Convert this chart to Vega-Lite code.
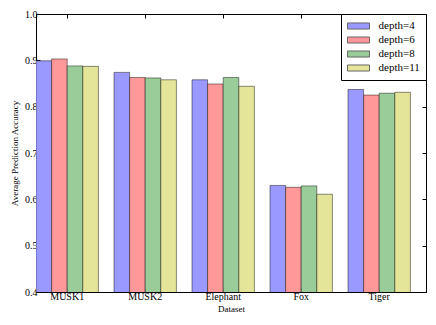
{
  "$schema": "https://vega.github.io/schema/vega-lite/v6.json",
  "autosize": "none",
  "width": 390,
  "height": 278,
  "padding": {"left": 36, "top": 14, "right": 10, "bottom": 33},
  "background": "white",
  "config": {
    "view": {"stroke": "black", "strokeWidth": 1},
    "font": "Liberation Serif",
    "axis": {
      "labelFont": "Liberation Serif",
      "titleFont": "Liberation Serif",
      "labelFontSize": 10,
      "titleFontSize": 9,
      "titleFontWeight": "normal",
      "labelColor": "black",
      "titleColor": "black",
      "domainColor": "black",
      "tickColor": "black",
      "tickSize": -4,
      "grid": false
    },
    "legend": {"labelFont": "Liberation Serif", "labelFontSize": 11, "labelColor": "black"}
  },
  "data": {
    "values": [
      {"dataset": "MUSK1", "depth": "depth=4", "accuracy": 0.899},
      {"dataset": "MUSK1", "depth": "depth=6", "accuracy": 0.903},
      {"dataset": "MUSK1", "depth": "depth=8", "accuracy": 0.888},
      {"dataset": "MUSK1", "depth": "depth=11", "accuracy": 0.887},
      {"dataset": "MUSK2", "depth": "depth=4", "accuracy": 0.874},
      {"dataset": "MUSK2", "depth": "depth=6", "accuracy": 0.863},
      {"dataset": "MUSK2", "depth": "depth=8", "accuracy": 0.862},
      {"dataset": "MUSK2", "depth": "depth=11", "accuracy": 0.858},
      {"dataset": "Elephant", "depth": "depth=4", "accuracy": 0.858},
      {"dataset": "Elephant", "depth": "depth=6", "accuracy": 0.849},
      {"dataset": "Elephant", "depth": "depth=8", "accuracy": 0.863},
      {"dataset": "Elephant", "depth": "depth=11", "accuracy": 0.844},
      {"dataset": "Fox", "depth": "depth=4", "accuracy": 0.630},
      {"dataset": "Fox", "depth": "depth=6", "accuracy": 0.626},
      {"dataset": "Fox", "depth": "depth=8", "accuracy": 0.629},
      {"dataset": "Fox", "depth": "depth=11", "accuracy": 0.611},
      {"dataset": "Tiger", "depth": "depth=4", "accuracy": 0.837},
      {"dataset": "Tiger", "depth": "depth=6", "accuracy": 0.825},
      {"dataset": "Tiger", "depth": "depth=8", "accuracy": 0.829},
      {"dataset": "Tiger", "depth": "depth=11", "accuracy": 0.831}
    ]
  },
  "layer": [
    {
      "mark": {"type": "bar", "clip": true, "stroke": "black", "strokeOpacity": 0.45, "strokeWidth": 1, "opacity": 1},
      "encoding": {
        "x": {
          "field": "dataset", "type": "nominal",
          "sort": ["MUSK1", "MUSK2", "Elephant", "Fox", "Tiger"],
          "scale": {"type": "band", "paddingInner": 0.2, "paddingOuter": 0.1, "align": 0},
          "axis": {"title": "Dataset", "labelAngle": 0, "labelPadding": 3, "titlePadding": 3}
        },
        "xOffset": {
          "field": "depth", "type": "nominal",
          "sort": ["depth=4", "depth=6", "depth=8", "depth=11"]
        },
        "y": {
          "field": "accuracy", "type": "quantitative",
          "scale": {"domain": [0.4, 1.0], "zero": false, "nice": false},
          "axis": {"title": "Average Prediction Accuracy", "values": [0.4, 0.5, 0.6, 0.7, 0.8, 0.9, 1.0], "format": ".1f", "labelPadding": 3, "titlePadding": 5}
        },
        "color": {
          "field": "depth", "type": "nominal",
          "sort": ["depth=4", "depth=6", "depth=8", "depth=11"],
          "scale": {"domain": ["depth=4", "depth=6", "depth=8", "depth=11"], "range": ["#9999ff", "#ff9999", "#99cc99", "#e5e599"]},
          "legend": {
            "title": null,
            "orient": "top-right",
            "offset": 0,
            "fillColor": "white",
            "strokeColor": "black",
            "padding": 6,
            "labelFont": "Liberation Serif",
            "labelFontSize": 11,
            "labelColor": "black",
            "symbolOffset": 5.5,
            "labelOffset": 14,
            "rowPadding": 2,
            "symbolType": "M-2,-0.55H2V0.55H-2Z",
            "symbolSize": 121,
            "symbolOpacity": 1,
            "symbolStrokeColor": "#666666",
            "symbolStrokeWidth": 1
          }
        }
      }
    },
    {
      "mark": {"type": "point", "opacity": 0},
      "encoding": {
        "x": {
          "field": "dataset", "type": "nominal",
          "sort": ["MUSK1", "MUSK2", "Elephant", "Fox", "Tiger"],
          "scale": {"type": "band", "paddingInner": 0.2, "paddingOuter": 0.1, "align": 0},
          "axis": {"orient": "top", "title": null, "labels": false}
        },
        "y": {
          "field": "accuracy", "type": "quantitative",
          "scale": {"domain": [0.4, 1.0], "zero": false, "nice": false},
          "axis": {"orient": "right", "title": null, "labels": false, "values": [0.4, 0.5, 0.6, 0.7, 0.8, 0.9, 1.0]}
        }
      }
    }
  ],
  "resolve": {"scale": {"x": "independent", "y": "independent"}, "axis": {"x": "independent", "y": "independent"}}
}
